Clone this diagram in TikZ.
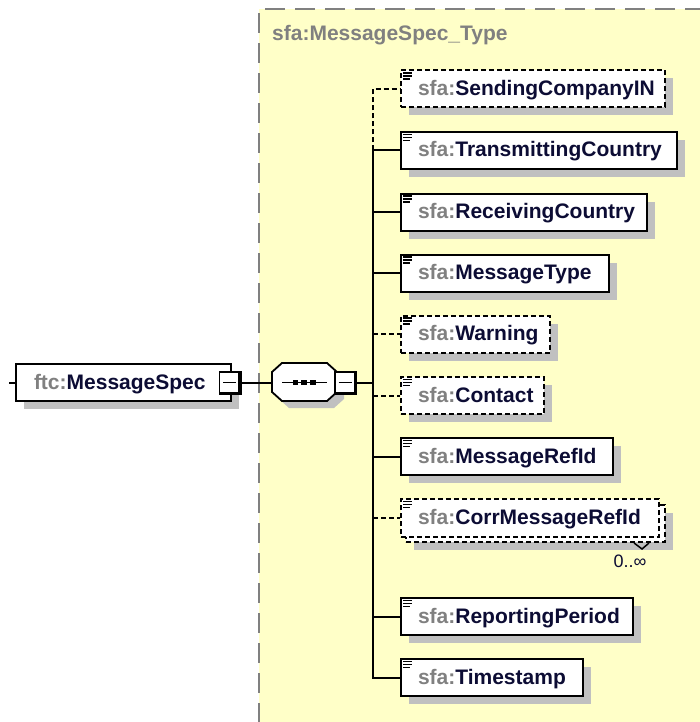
\documentclass[tikz,border=0pt]{standalone}
\usepackage{fontspec}
\setmainfont{Liberation Sans}
\usetikzlibrary{shadows}
\definecolor{ybg}{RGB}{255,255,200}
\definecolor{shd}{RGB}{192,192,192}
\definecolor{pfx}{RGB}{128,128,128}
\definecolor{nm}{RGB}{12,12,52}
\newcommand{\mysfa}[1]{\rule[-6pt]{0pt}{25pt}\hspace*{17pt}{\color{pfx}sfa:}{\color{nm}#1}}
\tikzset{
  elem/.style={draw=black, line width=2pt, fill=white, anchor=west,
    inner xsep=0pt, inner ysep=0pt, minimum height=37pt, align=left,
    font=\fontsize{21}{24}\selectfont\bfseries},
  shad/.style={drop shadow={shadow xshift=8pt, shadow yshift=-8pt, fill=shd, opacity=1}},
  optl/.style={dash pattern=on 5pt off 3pt},
  conn/.style={line width=2pt, line join=miter},
  tog/.style={draw=black, fill=white, line width=1.8pt, minimum width=20pt, minimum height=21pt, inner sep=0pt},
  iconl/.style={line width=1.4pt},
}
\begin{document}
\begin{tikzpicture}[x=1pt,y=-1pt]
\useasboundingbox (0,0) rectangle (699,722);
% complex type background
\fill[ybg] (259,9) rectangle (700,723);
\draw[pfx, line width=1.3pt, dash pattern=on 20pt off 10pt] (259,723) -- (259,9) -- (700,9);
\node[anchor=base west, font=\fontsize{21}{24}\selectfont\bfseries, text=pfx, inner sep=0pt] (title) at (272,41) {sfa:MessageSpec\_Type};

% root element
\node[elem, shad, text width=215pt] (root) at (15,382.5) {\rule[-6pt]{0pt}{25pt}\hspace*{18pt}{\color{pfx}ftc:}{\color{nm}MessageSpec}};
\coordinate (in) at (9,382.5);
\draw[conn] (in) -- (root.west);
\node[tog] (mA) at (229.5,382.5) {};
\draw[line width=3.2pt] ([xshift=-0.5pt]mA.north east) -- ([xshift=-0.5pt,yshift=0.5pt]mA.south east) -- ([yshift=0.5pt]mA.south west);
\draw[line width=1.8pt] ([xshift=-6.5pt]mA.center) -- ([xshift=6.5pt]mA.center);

% sequence compositor
\fill[shd] (289,370) -- (334,370) -- (344,379) -- (344,399) -- (334,408) -- (289,408) -- (279,399) -- (279,379) -- cycle;
\draw[line width=1.8pt, fill=white] (282,363) -- (327,363) -- (337,372) -- (337,392) -- (327,401) -- (282,401) -- (272,392) -- (272,372) -- cycle;
\node[minimum width=65pt, minimum height=38pt, inner sep=0pt] (seq) at (304.5,382.5) {};
\draw[line width=1.8pt] (282,382.5) -- (327,382.5);
\foreach \xx in {295.5,304,313} { \fill (\xx-2.7,379.8) rectangle (\xx+2.7,385.2); }
\draw[conn] (mA.east) -- (seq.west);
\node[tog] (mB) at (345,382.5) {};
\draw[line width=3.2pt] ([xshift=-0.5pt]mB.north east) -- ([xshift=-0.5pt,yshift=0.5pt]mB.south east) -- ([yshift=0.5pt]mB.south west);
\draw[line width=1.8pt] ([xshift=-6.5pt]mB.center) -- ([xshift=6.5pt]mB.center);

% child elements
\node[elem, shad, optl, text width=264pt] (e1) at (400,89) {\mysfa{SendingCompanyIN}};
\node[elem, shad, text width=276pt] (e2) at (400,150.5) {\mysfa{TransmittingCountry}};
\node[elem, shad, text width=246pt] (e3) at (400,212) {\mysfa{ReceivingCountry}};
\node[elem, shad, text width=208pt] (e4) at (400,273) {\mysfa{MessageType}};
\node[elem, shad, optl, text width=149pt] (e5) at (400,334) {\mysfa{Warning}};
\node[elem, shad, optl, text width=143pt] (e6) at (400,395.5) {\mysfa{Contact}};
\node[elem, shad, text width=212pt] (e7) at (400,456.5) {\mysfa{MessageRefId}};
\node[elem, shad, optl, text width=259pt] (e8b) at (405,523.5) {\rule[-6pt]{0pt}{25pt}};
\node[elem, optl, text width=258pt, minimum height=38pt] (e8) at (400,518) {\mysfa{CorrMessageRefId}};
\node[elem, shad, text width=232pt] (e9) at (400,616.5) {\mysfa{ReportingPeriod}};
\node[elem, shad, text width=182pt] (e10) at (400,677.5) {\mysfa{Timestamp}};

% multiplicity notch and label
\draw[line width=1.5pt] ([xshift=-32pt]e8b.south east) -- ++(8,6) -- ++(7,-6);
\node[font=\fontsize{18}{20}\selectfont, text=nm, inner sep=0pt] (mult) at (630,561) {0..∞};

% icons
\foreach \n in {e1,e2,e3,e4,e5,e6,e7,e8,e9,e10} {
  \draw[iconl] ([shift={(3,3.5)}]\n.north west) -- ++(9,0);
  \draw[iconl] ([shift={(3,6.5)}]\n.north west) -- ++(9,0);
  \draw[iconl] ([shift={(3,9.5)}]\n.north west) -- ++(7,0);
}

% connectors
\coordinate (tj) at (373,382.5);
\coordinate (t1) at (373,89);
\coordinate (t2) at (373,150.5);
\coordinate (t10) at (373,677.5);
\draw[conn] (mB.east) -- (tj);
\draw[conn, optl] (t2) -- (t1) -- (e1.west);
\draw[conn] (t2) -- (t10) -- (e10.west);
\draw[conn] (t2) -- (e2.west);
\draw[conn] (e3.west -| tj) -- (e3.west);
\draw[conn] (e4.west -| tj) -- (e4.west);
\draw[conn, optl] (e5.west -| tj) -- (e5.west);
\draw[conn, optl] (e6.west -| tj) -- (e6.west);
\draw[conn] (e7.west -| tj) -- (e7.west);
\draw[conn, optl] (e8.west -| tj) -- (e8.west);
\draw[conn] (e9.west -| tj) -- (e9.west);
\end{tikzpicture}
\end{document}
